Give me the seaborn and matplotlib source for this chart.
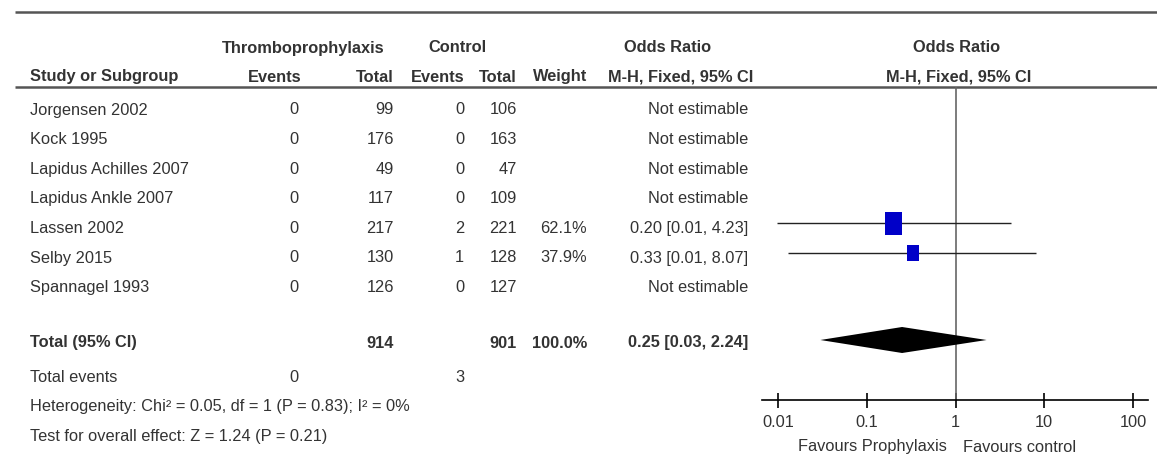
import numpy as np
import pandas as pd
import matplotlib
matplotlib.use("Agg")
import matplotlib.pyplot as plt
import seaborn as sns

# ---------------- data ----------------
studies = ["Jorgensen 2002", "Kock 1995", "Lapidus Achilles 2007", "Lapidus Ankle 2007",
           "Lassen 2002", "Selby 2015", "Spannagel 1993"]
tp_events = [0, 0, 0, 0, 0, 0, 0]
tp_total = [99, 176, 49, 117, 217, 130, 126]
ct_events = [0, 0, 0, 0, 2, 1, 0]
ct_total = [106, 163, 47, 109, 221, 128, 127]
weights = [np.nan, np.nan, np.nan, np.nan, 62.1, 37.9, np.nan]
or_est = [np.nan, np.nan, np.nan, np.nan, 0.20, 0.33, np.nan]
ci_lo = [np.nan, np.nan, np.nan, np.nan, 0.0097, 0.013, np.nan]
ci_hi = [np.nan, np.nan, np.nan, np.nan, 4.23, 8.07, np.nan]

total_tp = 914
total_ct = 901
total_weight = 100.0
total_or = 0.25
total_lo = 0.03
total_hi = 2.24
total_events_tp = 0
total_events_ct = 3
heterogeneity = "Heterogeneity: Chi\u00b2 = 0.05, df = 1 (P = 0.83); I\u00b2 = 0%"
overall = "Test for overall effect: Z = 1.24 (P = 0.21)"

tick_vals = [0.01, 0.1, 1, 10, 100]
tick_labels = ["0.01", "0.1", "1", "10", "100"]
favours_left = "Favours Prophylaxis"
favours_right = "Favours control"

# ---------------- style ----------------
sns.set_theme(style="white")
plt.rcParams['font.family'] = ['Liberation Sans', 'DejaVu Sans']
TXT = "#333333"
FS = 11.8

W, H = 1157, 470
fig = plt.figure(figsize=(W / 100, H / 100), dpi=100)
fig.patch.set_facecolor("white")

# table axes in pixel coordinates
tab = fig.add_axes([0, 0, 1, 1])
tab.set_xlim(0, W)
tab.set_ylim(H, 0)
tab.axis("off")


def t(x, y, s, ha="left", bold=False):
    tab.text(x, y, s, ha=ha, va="center", fontsize=FS, color=TXT,
             fontweight="bold" if bold else "normal")


# rules
tab.plot([15, W], [12, 12], color="#555555", lw=1.8, solid_capstyle="butt")
tab.plot([15, W], [87, 87], color="#555555", lw=1.8, solid_capstyle="butt")

# headers
y1, y2 = 48, 77
t(303, y1, "Thromboprophylaxis", "center", True)
t(457, y1, "Control", "center", True)
t(668, y1, "Odds Ratio", "center", True)
t(957, y1, "Odds Ratio", "center", True)
t(30, y2, "Study or Subgroup", "left", True)
t(275, y2, "Events", "center", True)
t(394, y2, "Total", "right", True)
t(465, y2, "Events", "right", True)
t(517, y2, "Total", "right", True)
t(587, y2, "Weight", "right", True)
t(681, y2, "M-H, Fixed, 95% CI", "center", True)
t(959, y2, "M-H, Fixed, 95% CI", "center", True)

# study rows
row0, step = 110, 29.6
rows_y = [row0 + i * step for i in range(len(studies))]
for i, name in enumerate(studies):
    y = rows_y[i]
    t(30, y, name)
    t(298, y, str(tp_events[i]), "right")
    t(394, y, str(tp_total[i]), "right")
    t(464, y, str(ct_events[i]), "right")
    t(517, y, str(ct_total[i]), "right")
    if np.isnan(or_est[i]):
        t(748, y, "Not estimable", "right")
    else:
        t(587, y, f"{weights[i]:.1f}%", "right")
        t(748, y, f"{or_est[i]:.2f} [{ci_lo[i]:.2f}, {ci_hi[i]:.2f}]", "right")

# totals
yt = 343
t(30, yt, "Total (95% CI)", bold=True)
t(394, yt, str(total_tp), "right", True)
t(517, yt, str(total_ct), "right", True)
t(587, yt, f"{total_weight:.1f}%", "right", True)
t(748, yt, f"{total_or:.2f} [{total_lo:.2f}, {total_hi:.2f}]", "right", True)
ye = 377
t(30, ye, "Total events")
t(298, ye, str(total_events_tp), "right")
t(464, ye, str(total_events_ct), "right")
t(30, 407, heterogeneity)
t(30, 437, overall)

# favours labels
t(947, 447, favours_left, "right")
t(963, 447, favours_right, "left")

# ---------------- forest axes ----------------
x_left, x_right = 762, 1148
x_one, decade = 955.5, 88.75
y_top, y_axis = 87, 400
fax = fig.add_axes([x_left / W, (H - y_axis) / H, (x_right - x_left) / W, (y_axis - y_top) / H])
fax.set_facecolor("none")
fax.set_xscale("log")
fax.set_xlim(10 ** ((x_left - x_one) / decade), 10 ** ((x_right - x_one) / decade))
fax.set_ylim(y_axis, y_top)
for side in ["top", "left", "right"]:
    fax.spines[side].set_visible(False)
fax.spines["bottom"].set_color("black")
fax.spines["bottom"].set_linewidth(1.2)
fax.set_xticks(tick_vals)
fax.set_xticklabels(tick_labels)
fax.xaxis.set_minor_locator(matplotlib.ticker.NullLocator())
fax.tick_params(axis="x", which="major", bottom=True, direction="inout", length=10.8,
                width=1.2, color="black", labelsize=FS, labelcolor=TXT, pad=5.5)
fax.set_yticks([])
fax.grid(False)

fax.axvline(1, color="#666666", lw=1.2, zorder=1)

df = pd.DataFrame({"y": rows_y, "or": or_est, "lo": ci_lo, "hi": ci_hi, "weight": weights}).dropna()
df["yg"] = df["y"] - 5
fax.hlines(df["yg"], df["lo"], df["hi"], color="#222222", lw=1.0, zorder=2)
box = [(-0.78, -1), (0.78, -1), (0.78, 1), (-0.78, 1)]
sns.scatterplot(data=df, x="or", y="yg", size="weight", sizes=(133, 274),
                marker=box, color="#0000C8", edgecolor="#0000C8", linewidth=0,
                legend=False, ax=fax, zorder=3)
fax.set_xlabel("")
fax.set_ylabel("")

yd = yt - 3
fax.fill([total_lo, total_or, total_hi, total_or], [yd, yd - 13, yd, yd + 13],
         color="black", zorder=3, lw=0)

fig.savefig("out.png", dpi=100, facecolor="white")
